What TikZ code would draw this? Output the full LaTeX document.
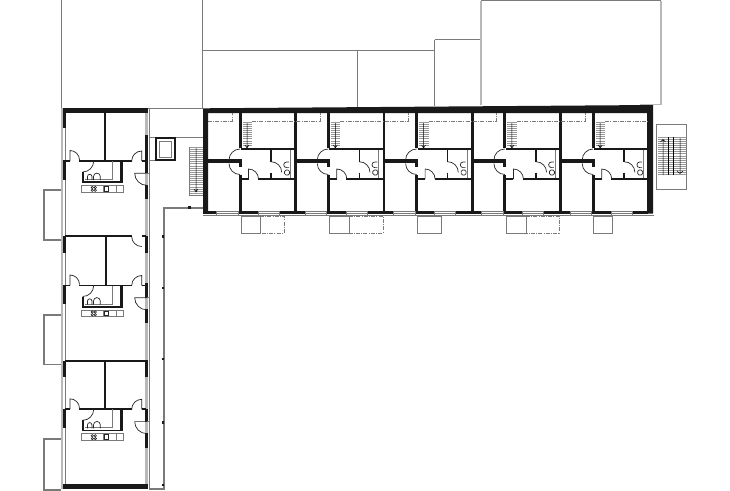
\documentclass[tikz,border=0pt]{standalone}
\usepackage{tikz}
\definecolor{wallgray}{gray}{0.1}
\definecolor{linegray}{gray}{0.48}
\definecolor{bandgray}{gray}{0.72}
\tikzset{
  wall/.style={draw=wallgray,line width=2.8pt},
  thinwall/.style={draw=wallgray,line width=1.8pt},
  plan/.style={draw=linegray,line width=0.8pt},
  soft/.style={draw=linegray,line width=0.9pt},
  band/.style={draw=bandgray,line width=2.2pt},
  hidden/.style={draw=linegray,line width=0.7pt,dash pattern=on 4pt off 1.2pt on 1pt off 1.2pt},
  swing/.style={draw=black!85,line width=0.7pt}
}
% stairs: x, width, y from, y to
\newcommand{\treads}[4]{
  \pgfmathsetmacro{\tsecond}{#3+2.1}
  \foreach \ty in {#3,\tsecond,...,#4}
    \draw[draw=black!40,line width=0.7pt] (#1,\ty) -- ++(#2,0);
}
% one unit of the long wing
\newcommand{\flatunit}[1]{
  \begin{scope}[xshift=#1*88.3pt]
    \fill[wallgray] (238.5,113) rectangle (241.5,148);
    \fill[wallgray] (238.5,159.3) rectangle (241.5,166.5);
    \fill[wallgray] (238.5,175) rectangle (241.5,212);
    \fill[wallgray] (294.2,113) rectangle (297,212);
    \fill[wallgray] (240,177.8) rectangle (248.5,180.2);
    \fill[wallgray] (258,177.8) rectangle (296,180.2);
    \draw[thinwall,line width=1.3pt] (241,149) -- (295,149);
    \draw[thinwall,line width=1.5pt] (271,149) -- (271,162);
    \draw[thinwall,line width=1.5pt] (271,172.5) -- (271,179);
    \draw[soft] (290.5,150) -- (290.5,178);
    \draw[swing] (240,149) arc[start angle=90,end angle=180,radius=11pt];
    \draw[swing] (229,163.5) arc[start angle=180,end angle=270,radius=11pt];
    \draw[swing] (248.5,179) -- (248.5,169) arc[start angle=90,end angle=0,radius=10pt];
    \draw[swing] (271,161.7) arc[start angle=90,end angle=0,radius=10.7pt];
    \draw[swing] (289,162) -- (286.5,162) arc[start angle=90,end angle=270,radius=2.8pt] -- (289,167.6);
    \draw[swing,rounded corners=1.5pt] (284.5,170) rectangle (289.5,175);
    \treads{242.5}{9.5}{122}{147}
    \draw[line width=0.5pt,black] (247,123) -- (247,147) (245,145) -- (247,148) -- (249,145);
    \filldraw[soft,fill=white] (216.8,211) rectangle (238.5,215);
    \filldraw[soft,fill=white] (258,211) rectangle (279,215);
    \draw[draw=linegray,line width=0.5pt] (216.8,213) -- (238.5,213) (258,213) -- (279,213);
  \end{scope}
}
\begin{document}
\begin{tikzpicture}[x=1pt,y=-1pt]
  \useasboundingbox (0,0) rectangle (730,490);
  % neighbouring buildings
  \draw[plan] (61,0) -- (61,108);
  \draw[plan] (202.5,0) -- (202.5,108);
  \draw[plan] (61,108) -- (202.5,108);
  \draw[plan] (202.5,50.5) -- (434,50.5);
  \draw[plan] (357.5,50.5) -- (357.5,107);
  \draw[plan] (434.5,39.5) -- (481,39.5);
  \draw[plan] (434.5,39.5) -- (434.5,106);
  \draw[band,line width=1.2pt] (481,0.5) -- (481,105);
  \draw[plan] (481,0.5) -- (661,0.5);
  \draw[band,line width=1.2pt] (661,0.5) -- (661,104.5) -- (640,104.5);
  % long wing, outer walls
  \fill[wallgray] (203,108.3) -- (653,105) -- (653,213.7) -- (648,213.7) -- (648,113) -- (208,113) -- (208,211) -- (203,211) -- cycle;
  \fill[wallgray] (203,211) rectangle (648,213.7);
  \draw[soft] (203,215) -- (654,215);
  \fill[wallgray] (208,159.3) rectangle (241,162.7);
  \foreach \k in {1,2,3,4}
    \fill[wallgray] (208+\k*88.3-1,159.3) rectangle (241+\k*88.3,162.7);
  \foreach \k in {0,...,4}
    \flatunit{\k}
  % dash-dot lines
  \draw[hidden] (208,121) -- (232,121) -- (232,113);
  \draw[hidden] (252,121) -- (320,121) -- (320,113);
  \draw[hidden] (340.3,121) -- (408.3,121) -- (408.3,113);
  \draw[hidden] (428.6,121) -- (496.6,121) -- (496.6,113);
  \draw[hidden] (516.9,121) -- (584.9,121) -- (584.9,113);
  \draw[hidden] (605.2,121) -- (648,121);
  % terraces
  \draw[soft] (260,216) -- (241.5,216) -- (241.5,233) -- (260,233) -- (260,216);
  \draw[hidden] (260,216) -- (284,216) -- (284,233) -- (260,233);
  \draw[soft] (349,216) -- (329.5,216) -- (329.5,233) -- (349,233) -- (349,216);
  \draw[hidden] (349,216) -- (383,216) -- (383,233) -- (349,233);
  \draw[soft] (417,216) rectangle (441,233);
  \draw[soft] (526,216) -- (506,216) -- (506,233) -- (526,233) -- (526,216);
  \draw[hidden] (526,216) -- (559,216) -- (559,233) -- (526,233);
  \draw[soft] (593.5,216) rectangle (612,233);
  % end stair
  \draw[soft] (656.7,124) rectangle (686.7,189);
  \treads{658}{28}{137}{175}
  \draw[line width=0.5pt,black] (663,175) -- (663,140) (660.5,142) -- (663,139.5) -- (665.5,142);
  \draw[line width=0.5pt,black] (668,137) -- (668,175) (673,137) -- (673,175);
  \draw[line width=0.5pt,black] (680,138) -- (680,173) (677,171) -- (680,173.5) -- (683,171);
  % access deck, lift, stair
  \draw[soft] (149,137) -- (203,137);
  \draw[soft] (149,160) -- (175,160);
  \draw[wall,line width=2pt] (155.5,138) rectangle (174.5,160);
  \draw[soft] (159,141) rectangle (171,157);
  \treads{189.5}{13}{147}{194}
  \draw[soft] (189.5,147) -- (189.5,195) -- (203,195);
  \draw[line width=0.5pt,black] (196,148) -- (196,191) (194,189) -- (196,192) -- (198,189);
  \draw[soft,line width=1.2pt] (203,208) -- (164,208) -- (164,489) -- (149,489);
  \fill[wallgray] (188,206) rectangle (191,209);
  \foreach \dy in {236.7,288,359,422.7,485}
    \fill[wallgray] (161.5,\dy-1.3) rectangle (164.3,\dy+1.3);
  % short wing, side bands
  \draw[band] (62,108) -- (62,489);
  \draw[band] (146.5,113) -- (146.5,485);
  \draw[soft] (149.3,108) -- (149.3,489);
  \draw[soft] (65,113) -- (65,484);
  % short wing, outer walls
  \fill[wallgray] (63,108) rectangle (148,113);
  \fill[wallgray] (63,484) rectangle (148,489);
  \foreach \yA/\yB in {108/128,160/180,236/253,285/304,361/377,409/428}
    \fill[wallgray] (63,\yA) rectangle (65.7,\yB);
  \foreach \yA/\yB in {135/173,185/199,236/253,283/298,309/323,361/377,409/422,433/448}
    \fill[wallgray] (145.3,\yA) rectangle (148,\yB);
  % short wing, flats
  \draw[thinwall] (105.3,113) -- (105.3,160);
  \draw[thinwall] (65,236.2) -- (132,236.2);
  \draw[wall,line width=2.2pt] (105.7,236) -- (105.7,285);
  \draw[thinwall] (65,361) -- (148,361);
  \draw[thinwall] (105.3,361) -- (105.3,409);
  \draw[swing] (131.7,236.5) arc[start angle=180,end angle=270,radius=10pt];
  \draw[thinwall] (141.7,236.2) -- (146,236.2);
  \foreach \ycore in {161,285.5,409.3} {
    \begin{scope}[yshift=-\ycore pt]
      \draw[thinwall] (65,0) -- (70,0);
      \draw[thinwall] (79.3,0) -- (132,0);
      \draw[thinwall] (141.7,0) -- (146,0);
      \draw[swing] (70,0) -- (70,-10.5) arc[start angle=90,end angle=0,radius=9.5pt];
      \draw[swing] (141.7,0) -- (141.7,-10) arc[start angle=90,end angle=180,radius=10pt];
      \draw[wall] (121.7,0) -- (121.7,22);
      \draw[thinwall] (82,21.2) -- (123,21.2);
      \draw[wall,line width=2.5pt] (83,11) -- (83,22.1);
      \draw[swing] (82.7,11) arc[start angle=270,end angle=360,radius=11pt];
      \draw[soft] (112.7,0) -- (112.7,18.5) -- (85,18.5);
      \draw[swing] (87.5,19) -- (87.5,15.5) arc[start angle=180,end angle=0,radius=2.2pt] -- (91.9,19);
      \draw[swing] (93.5,19) -- (93.5,15.5) arc[start angle=180,end angle=0,radius=3.4pt] -- (100.3,19);
      \draw[soft] (81.7,24.5) rectangle (123.5,31);
      \draw[soft] (103.3,24.5) -- (103.3,31) (116.7,24.5) -- (116.7,31);
      \draw[swing] (104.5,25.5) rectangle (108.5,30);
      \foreach \sx/\sy in {92.3/26.5,95.3/26.5,92.3/29.3,95.3/29.3}
        \draw[swing,line width=0.6pt] (\sx,\sy) circle[radius=1.2pt];
      \draw[swing] (146.7,12.3) -- (134.7,12.3) arc[start angle=180,end angle=270,radius=12pt];
      \draw[soft] (146.7,12.3) -- (149.3,12.3);
    \end{scope}
  }
  % balconies
  \foreach \yA/\yB in {190/240,315/364.5,439/490}
    \draw[soft,line width=1.1pt] (61,\yA) -- (44,\yA) -- (44,\yB) -- (61,\yB);
\end{tikzpicture}
\end{document}
